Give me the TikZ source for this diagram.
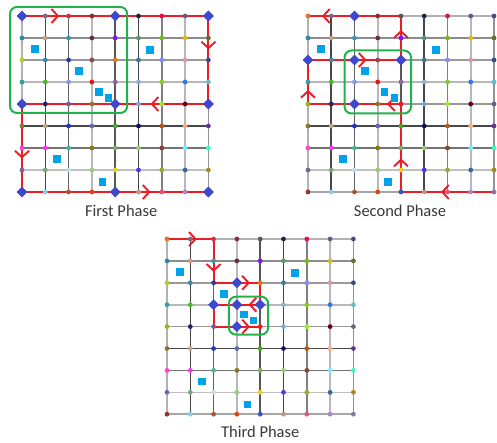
\documentclass[tikz,border=0pt]{standalone}
\usepackage{fontspec}
\setmainfont{Carlito}
\usetikzlibrary{arrows.meta,positioning,shapes.geometric,decorations.markings,fit}
\definecolor{routered}{HTML}{ED1C24}
\definecolor{hubblue}{HTML}{3F48CC}
\definecolor{zonegreen}{HTML}{22B14C}
\definecolor{sinkcyan}{HTML}{00A2E8}
\definecolor{captiongray}{HTML}{383838}

\tikzset{
  gridline/.style={line width=1.6pt},
  route/.style={draw=routered,line width=2pt},
  chev/.style={postaction={decorate},decoration={markings,
      mark=at position #1 with {\arrow{Straight Barb[length=6.5pt,width=14pt,line width=1.9pt]}}}},
  hub/.style={diamond,fill=hubblue,minimum size=11pt,inner sep=0pt},
  sink/.style={rectangle,fill=sinkcyan,minimum size=7.5pt,inner sep=0pt},
  zonebox/.style={draw=zonegreen,line width=2pt,rounded corners=7pt},
  caption/.style={font=\fontsize{16.5}{19}\selectfont,text=captiongray}
}

% grid lines and named crossings
\newcommand{\phasegrid}[1]{%
  \foreach \k/\shade in {0/30,1/72,2/62,3/28,4/66,5/72,6/50,7/28,8/42}
    \draw[gridline,black!\shade] (\k,0) -- (\k,8);
  \foreach \k/\shade in {0/30,1/45,2/40,3/28,4/40,5/72,6/55,7/25,8/35}
    \draw[gridline,black!\shade] (0,\k) -- (8,\k);
  \foreach \r in {0,...,8}
    \foreach \c in {0,...,8}
      \coordinate (#1-\r-\c) at (\c,\r);
}

% coloured sensor dots and sinks
\newcommand{\phasemarks}[1]{%
  \foreach \r/\hexrow in {
      0/{E8702A,7A6A8A,D03050,803040,505A6A,1A2A40,E01050,6A5A8A,4A4A8A},
      1/{2A8AA8,C8A080,3A98B0,6A2A50,8A10F0,5A9A6A,70BB20,E0BB10,6A6A30},
      2/{B8CC30,3A88B0,2A38A8,904848,E07818,3A7A9A,8888FF,E098A8,3A4A88},
      3/{30A0A0,48BB20,8898EE,EE1010,8A6A9A,90B0CC,88CC22,2A78EE,60C0D0},
      4/{88BB22,1A2A66,7A5A9A,8A7A30,E82020,78AADD,99EE33,660022,5A6A8A},
      5/{887733,BBAA99,2233CC,6666BB,44AA22,111166,BB5511,FFAA88,663399},
      6/{FF44CC,FF33EE,44BB88,887711,88AA66,99CC77,884433,77EEFF,33FFBB},
      7/{776699,77AA77,BBDDEE,99CC77,EECC22,5533EE,99AA33,3366AA,AA8822},
      8/{993333,88CCEE,AA5533,DD4411,3355CC,BB9988,DD5588,AA88CC,8877AA}} {
    \foreach \hex [count=\c from 0] in \hexrow {
      \definecolor{dotfill}{HTML}{\hex}
      \fill[dotfill] (#1-\r-\c) circle (2.4pt);
    }
  }
  \foreach \sx/\sy [count=\i] in {0.55/1.5,2.45/2.5,3.3/3.45,3.72/3.72,5.5/1.55,1.5/6.5,3.45/7.55}
    \node[sink] (#1-s\i) at (\sx,\sy) {};
}

\begin{document}
\begin{tikzpicture}
\useasboundingbox (0,0) rectangle (497pt,-443pt);

% first phase
\begin{scope}[shift={(22pt,-16pt)},x=23.3pt,y=-22pt]
  \phasegrid{a}
  \draw[route] (a-0-0) -- (a-0-8) -- (a-4-8) -- (a-4-0) -- (a-8-0) -- (a-8-8);
  \draw[route,chev=0.2] (a-0-0) -- (a-0-8);
  \draw[route,chev=0.38] (a-0-8) -- (a-4-8);
  \draw[route,chev=0.31] (a-4-8) -- (a-4-0);
  \draw[route,chev=0.62] (a-4-0) -- (a-8-0);
  \draw[route,chev=0.69] (a-8-0) -- (a-8-8);
  \phasemarks{a}
  \foreach \r/\c in {0/0,0/4,0/8,4/0,4/4,4/8,8/0,8/4,8/8}
    \node[hub] (a-h\r\c) at (a-\r-\c) {};
  \node[zonebox,fit=(a-0-0)(a-4-4),inner xsep=12pt,inner ysep=9pt] (a-zone) {};
  \node[caption] (a-title) at ([xshift=6pt,yshift=-19pt]a-8-4) {First Phase};
\end{scope}

% second phase
\begin{scope}[shift={(308pt,-16pt)},x=23.25pt,y=-22pt]
  \phasegrid{b}
  \draw[route] (b-8-8) -- (b-8-4) -- (b-4-4) -- (b-4-0) -- (b-2-0) -- (b-2-4) -- (b-0-4) -- (b-0-0);
  \draw[route,chev=0.57] (b-8-8) -- (b-8-4);
  \draw[route,chev=0.38] (b-8-4) -- (b-4-4);
  \draw[route,chev=0.15] (b-4-4) -- (b-4-0);
  \draw[route,chev=0.32] (b-4-0) -- (b-2-0);
  \draw[route,chev=0.63] (b-2-0) -- (b-2-4);
  \draw[route,chev=0.68] (b-2-4) -- (b-0-4);
  \draw[route,chev=0.85] (b-0-4) -- (b-0-0);
  \phasemarks{b}
  \foreach \r/\c in {0/2,2/0,2/2,2/4,4/2}
    \node[hub] (b-h\r\c) at (b-\r-\c) {};
  \node[zonebox,fit=(b-2-2)(b-4-4),inner xsep=10pt,inner ysep=9.5pt] (b-zone) {};
  \node[caption] (b-title) at ([xshift=-1pt,yshift=-19pt]b-8-4) {Second Phase};
\end{scope}

% third phase
\begin{scope}[shift={(167pt,-239pt)},x=23.3pt,y=-21.9pt]
  \phasegrid{c}
  \draw[route] (c-0-0) -- (c-0-2) -- (c-2-2) -- (c-2-4) -- (c-3-4) -- (c-3-2) -- (c-4-2) -- (c-4-4);
  \draw[route,chev=0.64] (c-0-0) -- (c-0-2);
  \draw[route,chev=0.75] (c-0-2) -- (c-2-2);
  \draw[route,chev=0.78] (c-2-2) -- (c-2-4);
  \draw[route,chev=0.25] (c-3-4) -- (c-3-2);
  \draw[route,chev=0.78] (c-4-2) -- (c-4-4);
  \phasemarks{c}
  \foreach \r/\c in {2/3,3/2,3/3,3/4,4/3}
    \node[hub] (c-h\r\c) at (c-\r-\c) {};
  \node[zonebox,fit=(c-3-3)(c-4-4),inner xsep=8pt,inner ysep=8pt] (c-zone) {};
  \node[caption] (c-title) at ([yshift=-18pt]c-8-4) {Third Phase};
\end{scope}
\end{tikzpicture}
\end{document}
